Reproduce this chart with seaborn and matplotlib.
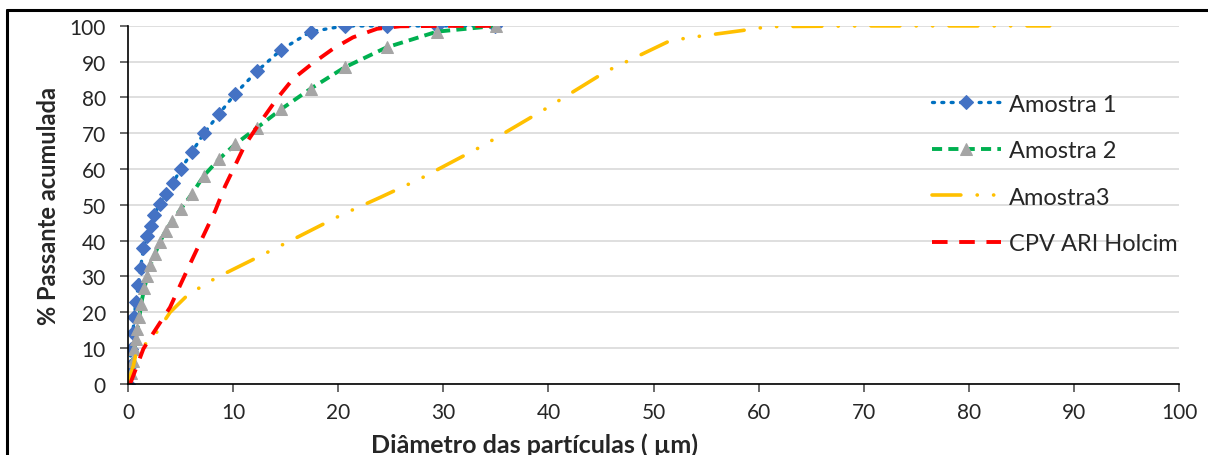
import numpy as np
import pandas as pd
import seaborn as sns
import matplotlib
matplotlib.use('Agg')
import matplotlib.pyplot as plt
from matplotlib.lines import Line2D

# --- dados ---
a1_x = [0.0, 0.15, 0.3, 0.45, 0.6, 0.73, 0.98, 1.2, 1.46, 1.8, 2.15, 2.5, 3.0, 3.6, 4.25,
        5.04, 6.06, 7.23, 8.66, 10.18, 12.25, 14.6, 17.4, 20.6, 24.6, 29.4, 34.9]
a1_y = [0, 5, 9.8, 14.2, 18.6, 22.8, 27.5, 32.5, 37.9, 41.2, 44.2, 47.2, 50.3, 53, 56.1,
        60, 64.7, 70, 75.4, 81, 87.3, 93.4, 98.4, 100, 100, 100, 100]

a2_x = [0.0, 0.25, 0.45, 0.6, 0.76, 0.89, 1.08, 1.24, 1.55, 1.84, 2.1, 2.57, 3.0, 3.6, 4.2,
        5.04, 6.06, 7.23, 8.66, 10.18, 12.25, 14.6, 17.4, 20.6, 24.6, 29.4, 35.0]
a2_y = [0, 3, 6.5, 9.8, 12.6, 15.4, 18.6, 22.3, 26.7, 30.1, 33.1, 36.3, 39.5, 42.8, 45.6,
        48.9, 53, 58.2, 62.8, 66.9, 71.5, 76.8, 82.5, 88.4, 94, 98.4, 100]

a3_x = [0.0, 0.5, 0.8, 2.4, 4.0, 5.7, 8.3, 11.8, 15.6, 20.3, 24.0, 27.8, 33.8, 39.7,
        45.5, 51.6, 54.1, 58.4, 61.0, 70.0, 80.0, 87.7]
a3_y = [0, 5, 9, 13, 20, 24.9, 29.5, 34.6, 40.2, 47.2, 52.1, 57.3, 66.6, 76.8,
        87.3, 95.9, 97, 98.7, 99.8, 100, 100, 100]

cpv_x = [0.2, 0.5, 1.46, 2.25, 4.0, 4.95, 6.06, 7.17, 8.3, 9.23, 9.87, 11.1, 12.25, 14.15,
         15.7, 17.5, 19.5, 21.4, 23.7, 25.9, 30.0, 34.6]
cpv_y = [0, 2.3, 9.8, 13.5, 21.4, 27.5, 34.5, 41.4, 48.4, 55.2, 59.1, 66.6, 71.7, 79.6,
         85.2, 89.4, 93.6, 96.8, 99.2, 99.9, 100, 100]

x_ticks = list(range(0, 101, 10))
y_ticks = list(range(0, 101, 10))

# --- estilo ---
sns.set_theme(style='white')
plt.rcParams['font.family'] = ['Lato', 'DejaVu Sans']

fig, ax = plt.subplots(figsize=(12.08, 4.56), dpi=100)
fig.subplots_adjust(left=0.106, right=0.976, bottom=0.156, top=0.941)

sns.lineplot(x=a1_x, y=a1_y, ax=ax, sort=False, color='#0070C0', lw=2.4,
             linestyle=(0, (0.6, 2.2)), dash_capstyle='round',
             marker='D', markersize=7, markerfacecolor='#4472C4', markeredgecolor='#4472C4',
             label='Amostra 1')
sns.lineplot(x=a2_x, y=a2_y, ax=ax, sort=False, color='#00B050', lw=2.8,
             linestyle=(0, (2.6, 1.6)),
             marker='^', markersize=8, markerfacecolor='#A5A5A5', markeredgecolor='#A5A5A5',
             label='Amostra 2')
sns.lineplot(x=a3_x, y=a3_y, ax=ax, sort=False, color='#FFC000', lw=2.6,
             linestyle=(0, (8, 4.5, 0.05, 4.5, 0.05, 4.5)), dash_capstyle='round',
             label='Amostra3')
sns.lineplot(x=cpv_x, y=cpv_y, ax=ax, sort=False, color='#FF0000', lw=2.8,
             linestyle=(0, (4, 3)),
             label='CPV ARI Holcim')

ax.set_xlim(0, 100)
ax.set_ylim(0, 100)
ax.set_xticks(x_ticks)
ax.set_yticks(y_ticks)
ax.tick_params(axis='both', labelsize=15, length=6, direction='out',
               left=True, bottom=True, color='#595959')
ax.tick_params(axis='x', pad=7)
ax.tick_params(axis='y', pad=10)
ax.yaxis.grid(True, color='#D9D9D9', lw=1.2)
ax.set_axisbelow(True)
for s in ['top', 'right']:
    ax.spines[s].set_visible(False)
for s in ['left', 'bottom']:
    ax.spines[s].set_color('black')
    ax.spines[s].set_linewidth(1.2)

ax.set_xlabel('Diâmetro das partículas ( µm)', fontsize=18, fontweight='bold', labelpad=3)
ax.xaxis.set_label_coords(0.387, -0.135)
ax.set_ylabel('% Passante acumulada', fontsize=17, fontweight='bold', labelpad=7)

leg = ax.legend(loc='upper left', bbox_to_anchor=(0.745, 0.87), frameon=False,
                fontsize=17, handlelength=2.9, labelspacing=1.08, numpoints=1,
                handletextpad=0.35)

# moldura externa (só topo e lado esquerdo aparecem no recorte)
fig.add_artist(Line2D([7.5 / 1208, 1], [1 - 11 / 456, 1 - 11 / 456],
                      transform=fig.transFigure, color='black', lw=2.2))
fig.add_artist(Line2D([7.5 / 1208, 7.5 / 1208], [0, 1 - 11 / 456],
                      transform=fig.transFigure, color='black', lw=2.2))

fig.savefig('out.png', dpi=100)
